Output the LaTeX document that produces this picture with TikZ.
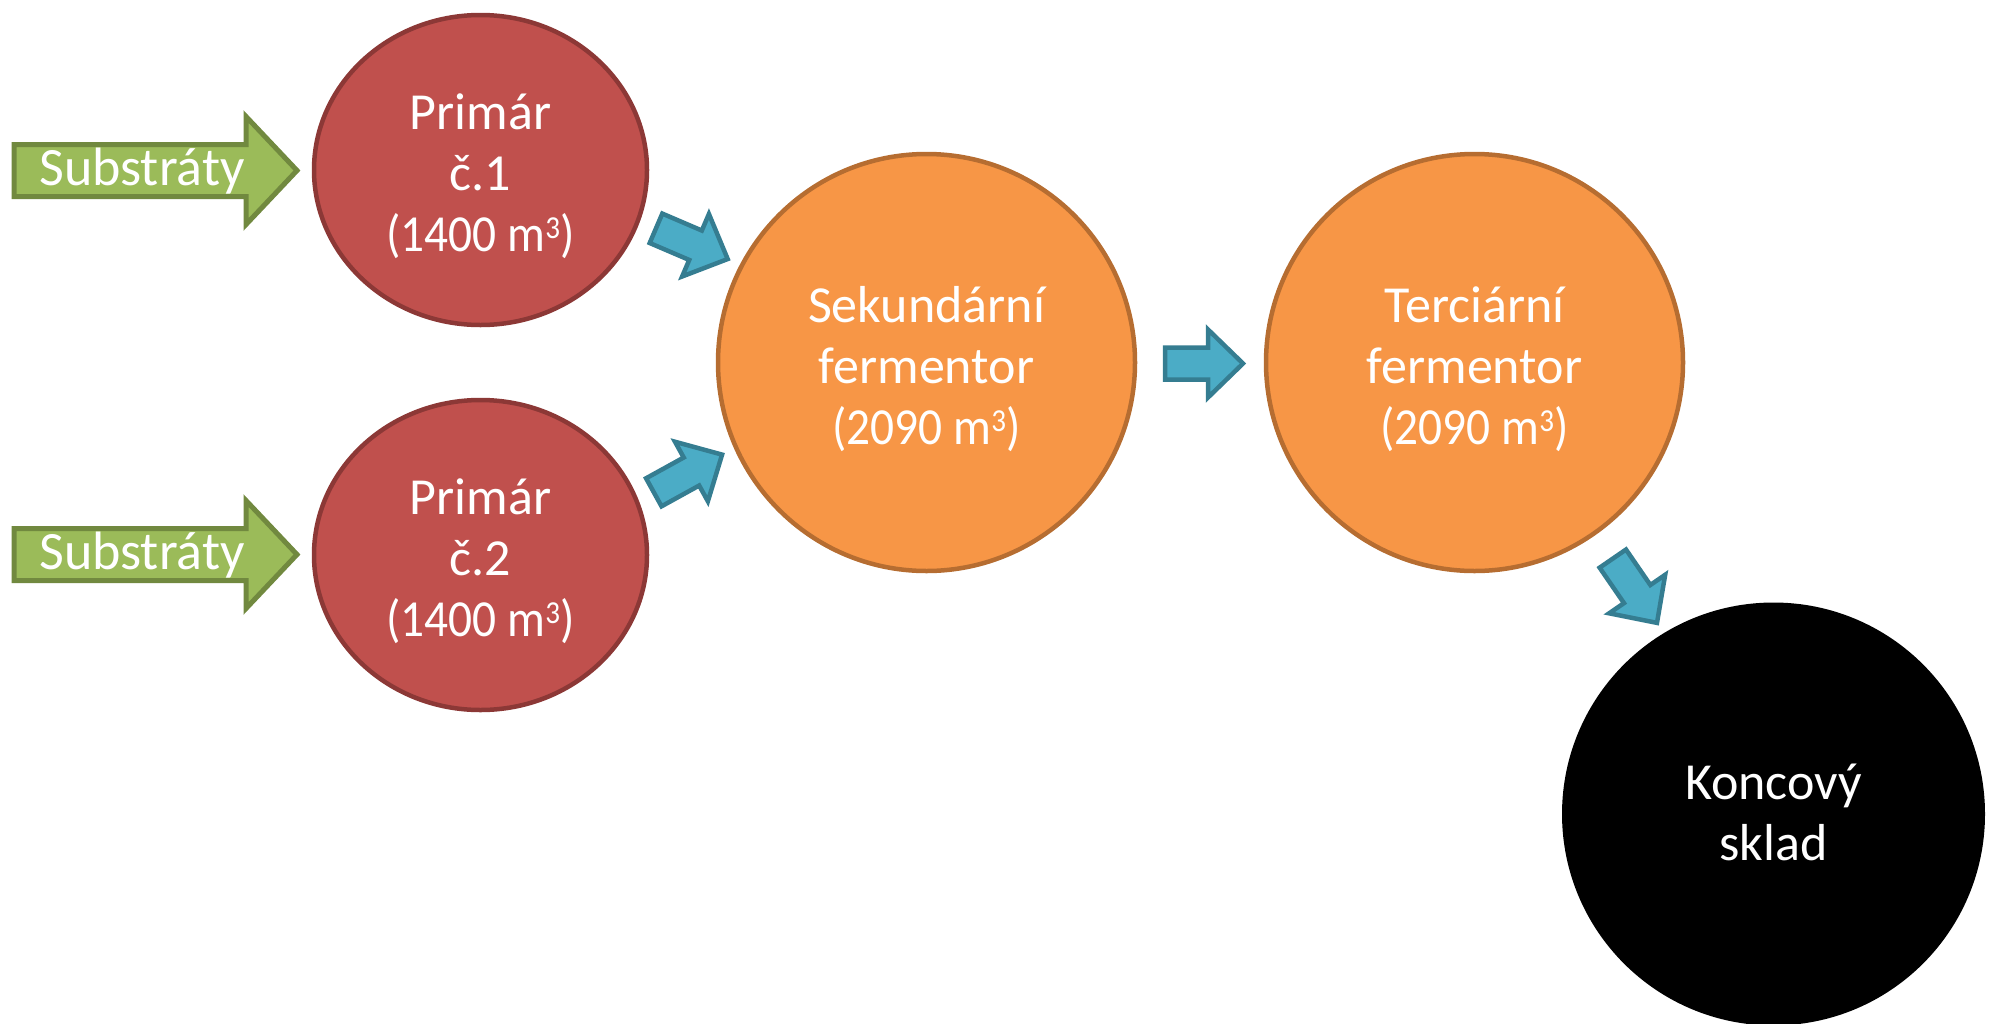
\documentclass[tikz,border=0pt]{standalone}
\usepackage{fontspec}
\usepackage{graphicx}
\setmainfont{Carlito}
\usetikzlibrary{shapes.geometric}
\definecolor{redfill}{HTML}{C0504D}
\definecolor{redline}{HTML}{8C3836}
\definecolor{orfill}{HTML}{F79646}
\definecolor{orline}{HTML}{B66D31}
\definecolor{grfill}{HTML}{9BBB59}
\definecolor{grline}{HTML}{71893F}
\definecolor{blfill}{HTML}{4BACC6}
\definecolor{blline}{HTML}{357D91}
\newcommand\vol[1]{\scalebox{0.91}[1]{(#1 m\raisebox{13pt}{\fontsize{32}{32}\selectfont 3})}}
\tikzset{
  pics/blockarrow/.style args={#1/#2/#3/#4/#5}{code={
    \draw[#1] (0,-#3/2) -- (#2-#5,-#3/2) -- (#2-#5,-#4/2) -- (#2,0) -- (#2-#5,#4/2) -- (#2-#5,#3/2) -- (0,#3/2) -- cycle;
  }},
  greenarr/.style={fill=grfill, draw=grline, line width=5pt},
  bluearr/.style={fill=blfill, draw=blline, line width=4.5pt},
  tank/.style={ellipse, inner sep=0pt, outer sep=0pt},
  redtank/.style={tank, fill=redfill, draw=redline, line width=4.5pt},
  ortank/.style={tank, fill=orfill, draw=orline, line width=4.5pt},
  blacktank/.style={tank, fill=black},
  tanktext/.style={text=white, align=center, font=\fontsize{52}{61}\selectfont},
  subtext/.style={text=white, font=\fontsize{54}{64}\selectfont, anchor=base},
}
\begin{document}
\begin{tikzpicture}[x=1pt,y=-1pt]
\useasboundingbox (0,0) rectangle (1991,1023);

% tanks
\node[redtank, minimum width=333, minimum height=310] (p1) at (480.5,170) {};
\node[redtank, minimum width=333, minimum height=310] (p2) at (480.5,555) {};
\node[ortank, minimum width=417, minimum height=417] (sek) at (926.5,362.5) {};
\node[ortank, minimum width=417, minimum height=417] (ter) at (1474.5,362.5) {};
\node[blacktank, minimum width=423, minimum height=423] (kon) at (1773.5,814) {};

% texts
\node[tanktext] (p1t) at (480.5,176) {Primár\\č.1\\\vol{1400}};
\node[tanktext] (p2t) at (480.5,561) {Primár\\č.2\\\vol{1400}};
\node[tanktext] (sekt) at (926.5,369) {Sekundární\\fermentor\\\vol{2090}};
\node[tanktext] (tert) at (1474.5,369) {Terciární\\fermentor\\\vol{2090}};
\node[tanktext] (kont) at (1773.5,812) {Koncový\\sklad};

% input arrows
\pic at (14,170.5) {blockarrow=greenarr/283/52/108/51};
\pic at (14,554.5) {blockarrow=greenarr/283/52/108/51};
\node[subtext] (s1) at (142,185) {Substráty};
\node[subtext] (s2) at (142,569) {Substráty};

% flow arrows
\pic[rotate=-23.2] at (656,228.3) {blockarrow=bluearr/78/32/68/35};
\pic[rotate=28.9] at (653.8,492.3) {blockarrow=bluearr/78/32/68/35};
\pic at (1165,363.5) {blockarrow=bluearr/78/32/68/35};
\pic[rotate=-55.5] at (1612.8,558.6) {blockarrow=bluearr/78/32/68/35};
\end{tikzpicture}
\end{document}
